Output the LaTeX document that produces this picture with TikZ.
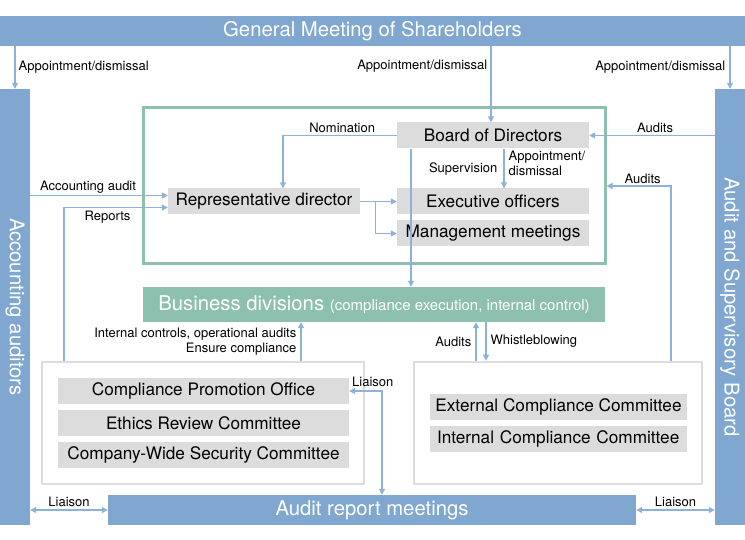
\documentclass[tikz,border=0pt]{standalone}
\usepackage{fontspec}
\setmainfont{TeX Gyre Heros}
\usepackage{tikz}
\usetikzlibrary{positioning,calc,arrows.meta}

\definecolor{barblue}{HTML}{7FA7CF}
\definecolor{linkblue}{HTML}{8DB2DA}
\definecolor{divgreen}{HTML}{8DC0AE}
\definecolor{boxgray}{HTML}{DCDCDC}
\definecolor{framegray}{HTML}{DDDDDD}

\tikzset{
  bar/.style={fill=barblue, text=white, inner sep=0pt, minimum height=30pt,
    font=\fontsize{20.3}{23}\selectfont},
  unit/.style={fill=boxgray, inner sep=0pt, minimum width=192pt, minimum height=26pt,
    font=\fontsize{17.2}{20}\selectfont},
  cunit/.style={unit, minimum width=291pt},
  frame/.style={draw=framegray, line width=2.5pt, fill=white, inner sep=0pt},
  link/.style={draw=linkblue, line width=1.3pt, -{Triangle[length=6pt,width=6pt]}},
  both/.style={link, {Triangle[length=6pt,width=6pt]}-{Triangle[length=6pt,width=6pt]}},
  lbl/.style={font=\fontsize{13}{15}\selectfont, inner sep=1pt}
}

\begin{document}
\begin{tikzpicture}[x=1pt, y=-1pt]
    \useasboundingbox (0,0) rectangle (745,540);

    % the blue bars round the picture
    \node[bar, minimum width=745pt] (gms) at (372.5,31) {General Meeting of Shareholders};
    \node[bar, minimum width=436pt, rotate=-90] (acc) at (15,307) {Accounting auditors};
    \node[bar, minimum width=436pt, rotate=-90] (asb) at (730,307) {Audit and Supervisory Board};
    \node[bar, minimum width=528pt] (arm) at (372,510) {Audit report meetings};

    % the management group
    \node[draw=divgreen, line width=3pt, inner sep=0pt, minimum width=462pt,
      minimum height=156pt] (grp) at (374,186) {};
    \node[unit] (bod) at (493,135.5) {Board of Directors};
    \node[unit] (exec) at (493,201.5) {Executive officers};
    \node[unit] (mgmt) at (493,233.5) {Management meetings};
    \node[unit] (rep) at (264,201.5) {Representative director};

    % business divisions
    \node[fill=divgreen, text=white, inner sep=0pt, minimum width=462pt,
      minimum height=35pt] (bd) at (374,304.5)
      {\fontsize{20.3}{23}\selectfont Business divisions
       \fontsize{15}{17}\selectfont(compliance execution, internal control)};

    % the two compliance groups
    \node[frame, minimum width=322pt, minimum height=122pt] (cbox) at (203,423) {};
    \node[cunit] (cpo) at (203.5,391) {Compliance Promotion Office};
    \node[cunit] (erc) at (203.5,423) {Ethics Review Committee};
    \node[cunit] (cws) at (203.5,455) {Company-Wide Security Committee};

    \node[frame, minimum width=288pt, minimum height=122pt] (rbox) at (558,423) {};
    \node[cunit, minimum width=257pt] (ecc) at (558.5,406.5) {External Compliance Committee};
    \node[cunit, minimum width=257pt, text width=243pt, align=left] (icc) at (558.5,438.5)
      {Internal Compliance Committee};

    % appointment from the shareholders
    \draw[link] (gms.south -| acc.west) -- (acc.west)
      node[lbl, midway, right=2pt] {Appointment/dismissal};
    \draw[link] (gms.south -| asb.west) -- (asb.west)
      node[lbl, midway, left=3pt] {Appointment/dismissal};
    \draw[link] ([xshift=-2pt]gms.south -| bod.north) -- ([xshift=-2pt]bod.north)
      node[lbl, pos=0.26, left=2pt] {Appointment/dismissal};

    % inside the management group
    \draw[link] (bod.west) -| ([xshift=19pt]rep.north)
      node[lbl, pos=0.24, above=1pt] {Nomination};
    \draw[link] ([xshift=11pt]bod.south) -- ([xshift=11pt]exec.north)
      node[lbl, midway, left=5pt, yshift=-1pt] {Supervision}
      node[lbl, midway, right=3pt, align=left, yshift=5pt] {Appointment/\\dismissal};
    \draw[link] (rep.east) -- (exec.west);
    \draw[link] ([xshift=15pt]rep.east) |- (mgmt.west);
    \draw[link] ([xshift=-82pt]bod.south) -- ([xshift=-82pt]bod.south |- bd.north);

    % audits and reports
    \coordinate (aud) at ([yshift=6pt]rep.west);
    \coordinate (rpt) at ([yshift=-6pt]rep.west);
    \draw[link] (aud -| acc.north) -- (aud)
      node[lbl, pos=0.42, above=1pt] {Accounting audit};
    \draw[link] ([xshift=-139pt]cbox.north) |- (rpt)
      node[lbl, pos=0.71, below=2pt] {Reports};
    \draw[link] (asb.south |- bod.east) -- (bod.east)
      node[lbl, midway, above=1pt, xshift=3pt] {Audits};
    \draw[link] ([xshift=113pt]rbox.north) |- (grp.east)
      node[lbl, pos=0.72, above=1pt] {Audits};

    % compliance and the business divisions
    \draw[link] ([xshift=98pt]cbox.north) -- ([xshift=98pt]cbox.north |- bd.south)
      node[lbl, midway, left=3pt, align=right] {Internal controls, operational audits\\Ensure compliance};
    \draw[link] ([xshift=-82pt]rbox.north) -- ([xshift=-82pt]rbox.north |- bd.south)
      node[lbl, midway, left=3pt] {Audits};
    \draw[link] ([xshift=-72pt]rbox.north |- bd.south) -- ([xshift=-72pt]rbox.north)
      node[lbl, midway, right=3pt] {Whistleblowing};

    % liaison
    \draw[both] (cpo.east) -| ([xshift=10pt]arm.north)
      node[lbl, pos=0.36, above=3pt] {Liaison};
    \draw[both] (acc.north |- arm.west) -- (arm.west)
      node[lbl, midway, above=2pt] {Liaison};
    \draw[both] (arm.east) -- (asb.south |- arm.east)
      node[lbl, midway, above=2pt] {Liaison};

\end{tikzpicture}
\end{document}
